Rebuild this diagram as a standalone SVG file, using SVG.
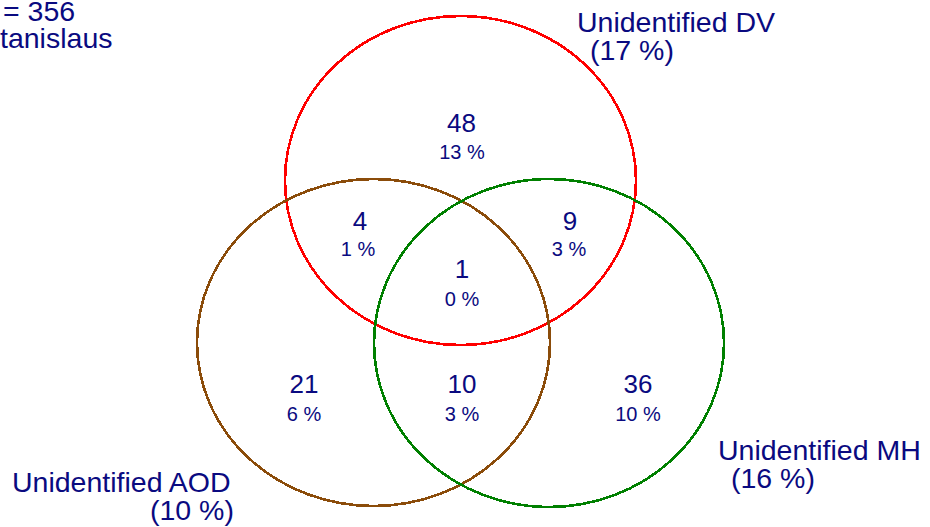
<svg xmlns="http://www.w3.org/2000/svg" width="930" height="527" viewBox="0 0 930 527">
<style>
.set{fill:none;stroke-width:2.6;shape-rendering:crispEdges}
.n{font-family:"Liberation Sans",Arial,sans-serif;fill:#0a0a80;text-anchor:middle;font-size:26px}
.p{font-family:"Liberation Sans",Arial,sans-serif;fill:#0a0a80;text-anchor:middle;font-size:20px}
.l{font-family:"Liberation Sans",Arial,sans-serif;fill:#0a0a80;font-size:28.5px}
</style>
<rect width="930" height="527" fill="#fff"/>
<g id="connectors">
<ellipse id="set-dv" class="set" cx="460.5" cy="180.5" rx="175.5" ry="164.5" stroke="#ff0000"/>
<ellipse id="set-aod" class="set" cx="373.5" cy="342.5" rx="176.5" ry="163.5" stroke="#8b4c0a"/>
<ellipse id="set-mh" class="set" cx="549" cy="343" rx="175" ry="164" stroke="#008000"/>
</g>
<g id="title">
<text class="l" x="3" y="21">= 356</text>
<text class="l" x="0" y="48">tanislaus</text>
</g>
<g id="label-dv">
<text class="l" x="577" y="32">Unidentified DV</text>
<text class="l" x="590" y="60">(17 %)</text>
</g>
<g id="label-mh">
<text class="l" x="718" y="460">Unidentified MH</text>
<text class="l" x="731" y="488">(16 %)</text>
</g>
<g id="label-aod">
<text class="l" x="12" y="492">Unidentified AOD</text>
<text class="l" x="150" y="520">(10 %)</text>
</g>
<g id="region-dv"><text class="n" x="461.5" y="132">48</text><text class="p" x="462" y="159">13 %</text></g>
<g id="region-dv-aod"><text class="n" x="360" y="230">4</text><text class="p" x="358" y="256">1 %</text></g>
<g id="region-dv-mh"><text class="n" x="570" y="230">9</text><text class="p" x="569" y="256">3 %</text></g>
<g id="region-all"><text class="n" x="462" y="278">1</text><text class="p" x="462" y="306">0 %</text></g>
<g id="region-aod"><text class="n" x="304" y="393">21</text><text class="p" x="304" y="421">6 %</text></g>
<g id="region-aod-mh"><text class="n" x="462" y="393">10</text><text class="p" x="462" y="421">3 %</text></g>
<g id="region-mh"><text class="n" x="638" y="393">36</text><text class="p" x="638" y="421">10 %</text></g>
</svg>
